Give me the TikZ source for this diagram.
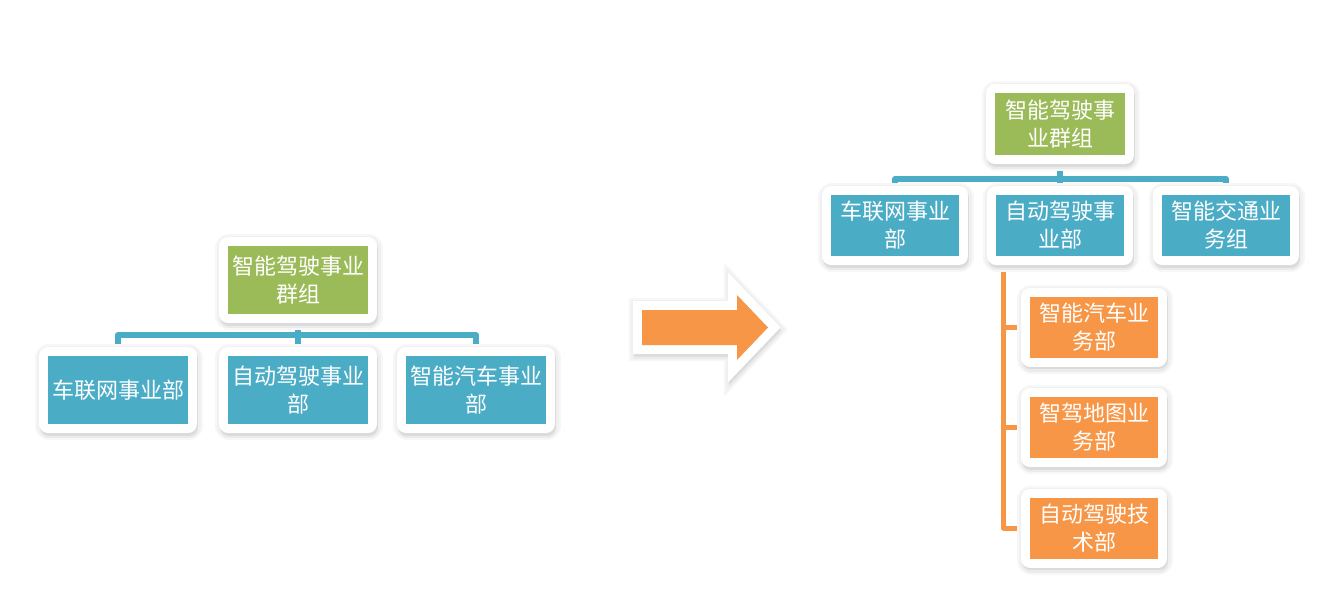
\documentclass[tikz,border=0pt]{standalone}
\usepackage{fontspec}
\newfontfamily\cjk{Noto Sans CJK SC}
\usetikzlibrary{calc,backgrounds}
\definecolor{cgreen}{HTML}{9BBB59}
\definecolor{cblue}{HTML}{4BACC6}
\definecolor{corange}{HTML}{F79646}
\tikzset{
  framed/.style={line join=round,
    preaction={draw=black!3, line width=14pt, transform canvas={shift={(0.4pt,-1pt)}}},
    preaction={draw=black!6, line width=12pt, transform canvas={shift={(0.4pt,-1pt)}}},
    preaction={draw=black!8, fill=black!8, line width=9pt, transform canvas={shift={(0.6pt,-2.6pt)}}},
    preaction={draw=black!14, fill=black!14, line width=9pt, transform canvas={shift={(0.4pt,-1.3pt)}}},
    preaction={draw=white, fill=white, line width=9pt},
    fill=#1},
  card/.style={rectangle, inner sep=0pt, align=center, text=white,
    font=\cjk\fontsize{11pt}{14pt}\selectfont, framed=#1},
  bigcard/.style={card=#1, minimum width=70pt, minimum height=34pt},
  smallcard/.style={card=#1, minimum width=64pt, minimum height=30.5pt},
  topcard/.style={card=#1, minimum width=65pt, minimum height=31pt},
  bconn/.style={draw=cblue, line width=3pt, line join=round},
  oconn/.style={draw=corange, line width=2.5pt, line join=round},
}
\begin{document}
\begin{tikzpicture}[x=0.5pt,y=-0.5pt]
\useasboundingbox (0,0) rectangle (1344,596);
% left chart
\node[bigcard=cgreen] (L0) at (298,280) {智能驾驶事业\\群组};
\node[bigcard=cblue] (L1) at (118,390) {车联网事业部};
\node[bigcard=cblue] (L2) at (298,390) {自动驾驶事业\\部};
\node[bigcard=cblue] (L3) at (476,390) {智能汽车事业\\部};
\coordinate (Lbar) at ($(L0.south)!0.5!(L2.north)$);
% right chart
\node[topcard=cgreen] (R0) at (1060,124) {智能驾驶事\\业群组};
\node[smallcard=cblue] (R1) at (895,225.5) {车联网事业\\部};
\node[smallcard=cblue] (R2) at (1060,225.5) {自动驾驶事\\业部};
\node[smallcard=cblue] (R3) at (1226,225.5) {智能交通业\\务组};
\node[smallcard=corange] (O1) at (1094,327) {智能汽车业\\务部};
\node[smallcard=corange] (O2) at (1094,427.5) {智驾地图业\\务部};
\node[smallcard=corange] (O3) at (1094,528) {自动驾驶技\\术部};
\coordinate (Rbar) at ($(R0.south)!0.6!(R2.north)$);
\coordinate (Otop) at ($(R2.south west)+(8,0)$);
\begin{scope}[on background layer]
\draw[bconn] (L0) -- (Lbar) -| (L1);
\draw[bconn] (Lbar) -| (L3);
\draw[bconn] (Lbar) -- (L2);
\draw[bconn] (R0) -- (Rbar) -| (R1);
\draw[bconn] (Rbar) -| (R3);
\draw[bconn] (Rbar) -- (R2);
\draw[oconn] (Otop) |- (O3.west);
\draw[oconn] (Otop) |- (O1.west);
\draw[oconn] (Otop) |- (O2.west);
\end{scope}
% transition arrow
\path[framed=corange, line join=miter, miter limit=3]
  (642,310) -- (737,310) -- (737,295) -- (768,327.5) -- (737,360) -- (737,345) -- (642,345) -- cycle;
\end{tikzpicture}
\end{document}
